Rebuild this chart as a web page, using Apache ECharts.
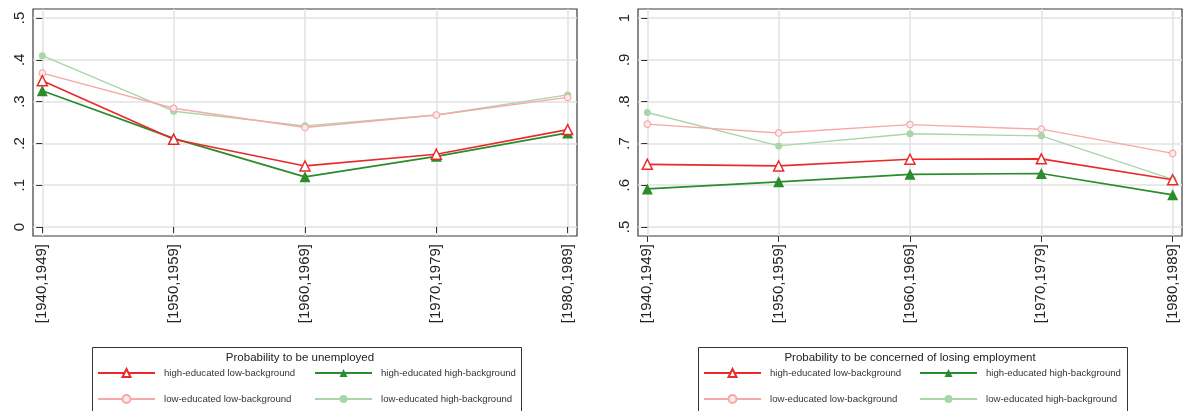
<!DOCTYPE html>
<html>
<head>
<meta charset="utf-8">
<script src="https://cdn.jsdelivr.net/npm/echarts@6/dist/echarts.min.js"></script>
<style>html,body{margin:0;padding:0;background:#fff;}#c{width:1185px;height:411px;}</style>
</head>
<body>
<div id="c"></div>
<script>
// ---- data ----
const cohorts = ['[1940,1949]', '[1950,1959]', '[1960,1969]', '[1970,1979]', '[1980,1989]'];
const seriesNames = ['high-educated low-background', 'high-educated high-background', 'low-educated low-background', 'low-educated high-background'];

// Panel 1: Probability to be unemployed
const unempHighLow  = [0.350, 0.210, 0.146, 0.174, 0.233];
const unempHighHigh = [0.326, 0.212, 0.120, 0.169, 0.225];
const unempLowLow   = [0.368, 0.284, 0.238, 0.268, 0.310];
const unempLowHigh  = [0.410, 0.277, 0.242, 0.268, 0.316];

// Panel 2: Probability to be concerned of losing employment
const concHighLow  = [0.650, 0.646, 0.662, 0.663, 0.613];
const concHighHigh = [0.591, 0.608, 0.626, 0.628, 0.577];
const concLowLow   = [0.746, 0.725, 0.745, 0.734, 0.676];
const concLowHigh  = [0.774, 0.694, 0.723, 0.718, 0.614];

const ticksLeft  = [0, 0.1, 0.2, 0.3, 0.4, 0.5];
const ticksRight = [0.5, 0.6, 0.7, 0.8, 0.9, 1.0];
const panelTitles = ['Probability to be unemployed', 'Probability to be concerned of losing employment'];

// ---- styling ----
const FONT = '"Liberation Sans", Arial, sans-serif';
const styles = [
  {color: '#ea2a2a', width: 1.7, symbol: 'triangle', size: 10, fill: '#fff', bw: 1.5},
  {color: '#2b8c2b', width: 1.7, symbol: 'triangle', size: 11, fill: '#2b8c2b', bw: 0},
  {color: '#f5a9a9', width: 1.4, symbol: 'circle', size: 6.5, fill: '#fde9e9', bw: 1.2},
  {color: '#a9d6a9', width: 1.4, symbol: 'circle', size: 7, fill: '#a9d6a9', bw: 0}
];

function fmtTick(v) {
  let s = (Math.round(v * 10) / 10).toFixed(1);
  if (s === '0.0') return '0';
  if (s === '1.0') return '1';
  return s.replace(/^0/, '');
}

const grids = [
  {left: 33, top: 9, width: 544, height: 227},
  {left: 638, top: 9, width: 544, height: 227}
];
const pad = 0.0216;
const xPad = 0.071;

const xAxes = grids.map((g, i) => ({
  type: 'value', gridIndex: i, min: -xPad, max: cohorts.length - 1 + xPad,
  axisLine: {show: false},
  axisTick: {show: true, length: 6, lineStyle: {color: '#333', width: 1}, customValues: cohorts.map((c, k) => k)},
  axisLabel: {customValues: cohorts.map((c, k) => k), rotate: 90, fontFamily: FONT, fontSize: 15, color: '#222', margin: 8,
    formatter: v => cohorts[Math.round(v)]},
  splitLine: {show: true, lineStyle: {color: '#e2e2e2', width: 1.5}}
}));

const tickSets = [ticksLeft, ticksRight];
const yAxes = grids.map((g, i) => ({
  type: 'value', gridIndex: i,
  min: tickSets[i][0] - pad, max: tickSets[i][tickSets[i].length - 1] + pad,
  axisLine: {show: false},
  axisTick: {show: true, length: 6, lineStyle: {color: '#333', width: 1}, customValues: tickSets[i]},
  axisLabel: {customValues: tickSets[i], rotate: 90, fontFamily: FONT, fontSize: 15, color: '#222', margin: 6,
    formatter: fmtTick},
  splitLine: {show: true, lineStyle: {color: '#e2e2e2', width: 1.5}}
}));

const panelData = [
  [unempHighLow, unempHighHigh, unempLowLow, unempLowHigh],
  [concHighLow, concHighHigh, concLowLow, concLowHigh]
];

const series = [];
panelData.forEach((arrs, p) => {
  arrs.forEach((vals, k) => {
    const st = styles[k];
    series.push({
      name: seriesNames[k], type: 'line', xAxisIndex: p, yAxisIndex: p,
      data: vals.map((v, i) => [i, v]),
      symbol: st.symbol, symbolSize: st.size, showAllSymbol: true,
      lineStyle: {color: st.color, width: st.width},
      itemStyle: {color: st.fill, borderColor: st.color, borderWidth: st.bw},
      z: 10 - k + (k < 2 ? 10 : 0),
      animation: false
    });
  });
});

const legendPos = [
  {box: 90, col1: 97, col2: 314, title: 300},
  {box: 696, col1: 703, col2: 919, title: 910}
];
const legends = [];
const graphics = [];
legendPos.forEach((lp, p) => {
  [[seriesNames[0], seriesNames[2], lp.col1], [seriesNames[1], seriesNames[3], lp.col2]].forEach(([a, b, x]) => {
    legends.push({
      data: [a, b], orient: 'vertical', left: x, top: 368, itemWidth: 57, itemHeight: 10, itemGap: 16,
      padding: 0, selectedMode: false,
      textStyle: {fontFamily: FONT, fontSize: 9.6, color: '#333', padding: [0, 0, 0, 4]}
    });
  });
  graphics.push({type: 'rect', left: lp.box, top: 345, shape: {width: 429, height: 80},
    style: {fill: 'none', stroke: '#333', lineWidth: 1}, silent: true});
  graphics.push({type: 'text', x: lp.title, y: 352, style: {text: panelTitles[p], textAlign: 'center',
    fontFamily: FONT, fontSize: 11.5, fill: '#222'}});
});

const chart = echarts.init(document.getElementById('c'), null, {renderer: 'canvas'});
chart.setOption({
  backgroundColor: '#fff',
  animation: false,
  grid: grids.map(g => Object.assign({show: true, borderColor: '#3a3a3a', borderWidth: 1.2, backgroundColor: 'transparent'}, g)),
  xAxis: xAxes,
  yAxis: yAxes,
  legend: legends,
  graphic: graphics,
  series: series
});
</script>
</body>
</html>
